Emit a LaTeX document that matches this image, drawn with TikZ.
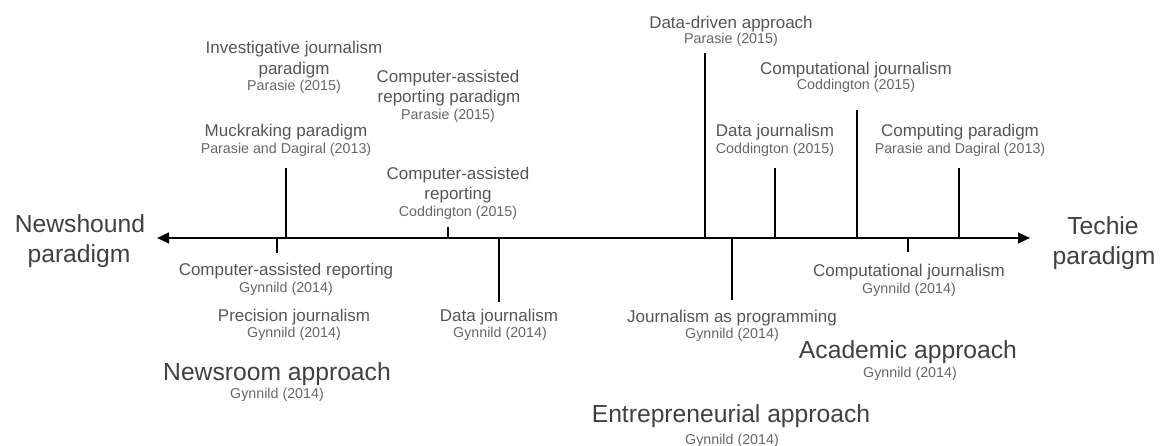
\documentclass[tikz,border=0pt]{standalone}
\usepackage{fontspec}
\setmainfont{Liberation Sans}
\usetikzlibrary{arrows.meta}
\definecolor{maintxt}{HTML}{555555}
\definecolor{citetxt}{HTML}{666666}
\definecolor{bigtxt}{HTML}{404040}
\tikzset{
  mainlbl/.style={anchor=base, inner sep=0pt, text=maintxt, font=\fontsize{12.75}{15}\selectfont},
  citelbl/.style={anchor=base, inner sep=0pt, text=citetxt, font=\fontsize{10.7}{12}\selectfont},
  biglbl/.style={anchor=base, inner sep=0pt, text=bigtxt, font=\fontsize{18.5}{22}\selectfont},
  axisline/.style={line width=1.7pt, {Triangle[length=9pt,width=8pt]}-{Triangle[length=9pt,width=8pt]}},
  stemline/.style={line width=1.6pt},
}
\begin{document}
\begin{tikzpicture}[x=0.75pt,y=-0.75pt]
\useasboundingbox (0,0) rectangle (1165,446);

% axis
\coordinate (axL) at (157,238);
\coordinate (axR) at (1030,238);
\draw[axisline] (axL) -- (axR);

% stems up
\coordinate (u1a) at (286,238); \coordinate (u1b) at (286,168);
\coordinate (u2a) at (448,238); \coordinate (u2b) at (448,227);
\coordinate (u3a) at (705,238); \coordinate (u3b) at (705,53);
\coordinate (u4a) at (775,238); \coordinate (u4b) at (775,168);
\coordinate (u5a) at (857,238); \coordinate (u5b) at (857,110);
\coordinate (u6a) at (959,238); \coordinate (u6b) at (959,168);
% stems down
\coordinate (d1a) at (277,238); \coordinate (d1b) at (277,253);
\coordinate (d2a) at (499,238); \coordinate (d2b) at (499,302);
\coordinate (d3a) at (732,238); \coordinate (d3b) at (732,300);
\coordinate (d4a) at (908,238); \coordinate (d4b) at (908,252);

\draw[stemline] (u1a) -- (u1b);
\draw[stemline] (u2a) -- (u2b);
\draw[stemline] (u3a) -- (u3b);
\draw[stemline] (u4a) -- (u4b);
\draw[stemline] (u5a) -- (u5b);
\draw[stemline] (u6a) -- (u6b);
\draw[stemline] (d1a) -- (d1b);
\draw[stemline] (d2a) -- (d2b);
\draw[stemline] (d3a) -- (d3b);
\draw[stemline] (d4a) -- (d4b);

% side labels
\node[biglbl] (nh1) at (80,232) {Newshound};
\node[biglbl] (nh2) at (79,262) {paradigm};
\node[biglbl] (te1) at (1103,234) {Techie};
\node[biglbl] (te2) at (1104,264) {paradigm};

% upper labels
\node[mainlbl] (inv1) at (294,53) {Investigative journalism};
\node[mainlbl] (inv2) at (294,74) {paradigm};
\node[citelbl] (inv3) at (294,90) {Parasie (2015)};

\node[mainlbl] (muck1) at (286,136) {Muckraking paradigm};
\node[citelbl] (muck2) at (286,153) {Parasie and Dagiral (2013)};

\node[mainlbl] (carp1) at (448,82) {Computer-assisted};
\node[mainlbl] (carp2) at (449,102) {reporting paradigm};
\node[citelbl] (carp3) at (448,119) {Parasie (2015)};

\node[mainlbl] (carc1) at (458,179) {Computer-assisted};
\node[mainlbl] (carc2) at (458,199) {reporting};
\node[citelbl] (carc3) at (458,216) {Coddington (2015)};

\node[mainlbl] (ddr1) at (731,28) {Data-driven approach};
\node[citelbl] (ddr2) at (731,43) {Parasie (2015)};

\node[mainlbl] (djc1) at (775,136) {Data journalism};
\node[citelbl] (djc2) at (775,153) {Coddington (2015)};

\node[mainlbl] (cjc1) at (856,74) {Computational journalism};
\node[citelbl] (cjc2) at (856,89) {Coddington (2015)};

\node[mainlbl] (cpp1) at (960,136) {Computing paradigm};
\node[citelbl] (cpp2) at (960,153) {Parasie and Dagiral (2013)};

% lower labels
\node[mainlbl] (carg1) at (286,275) {Computer-assisted reporting};
\node[citelbl] (carg2) at (286,292) {Gynnild (2014)};

\node[mainlbl] (prj1) at (294,321) {Precision journalism};
\node[citelbl] (prj2) at (294,337) {Gynnild (2014)};

\node[biglbl] (nra1) at (277,380) {Newsroom approach};
\node[citelbl] (nra2) at (277,398) {Gynnild (2014)};

\node[mainlbl] (djg1) at (499,321) {Data journalism};
\node[citelbl] (djg2) at (500,337) {Gynnild (2014)};

\node[mainlbl] (jap1) at (732,322) {Journalism as programming};
\node[citelbl] (jap2) at (732,338) {Gynnild (2014)};

\node[mainlbl] (cjg1) at (909,276) {Computational journalism};
\node[citelbl] (cjg2) at (909,293) {Gynnild (2014)};

\node[biglbl] (aca1) at (908,358) {Academic approach};
\node[citelbl] (aca2) at (910,377) {Gynnild (2014)};

\node[biglbl] (ent1) at (731,422) {Entrepreneurial approach};
\node[citelbl] (ent2) at (732,444) {Gynnild (2014)};
\end{tikzpicture}
\end{document}
